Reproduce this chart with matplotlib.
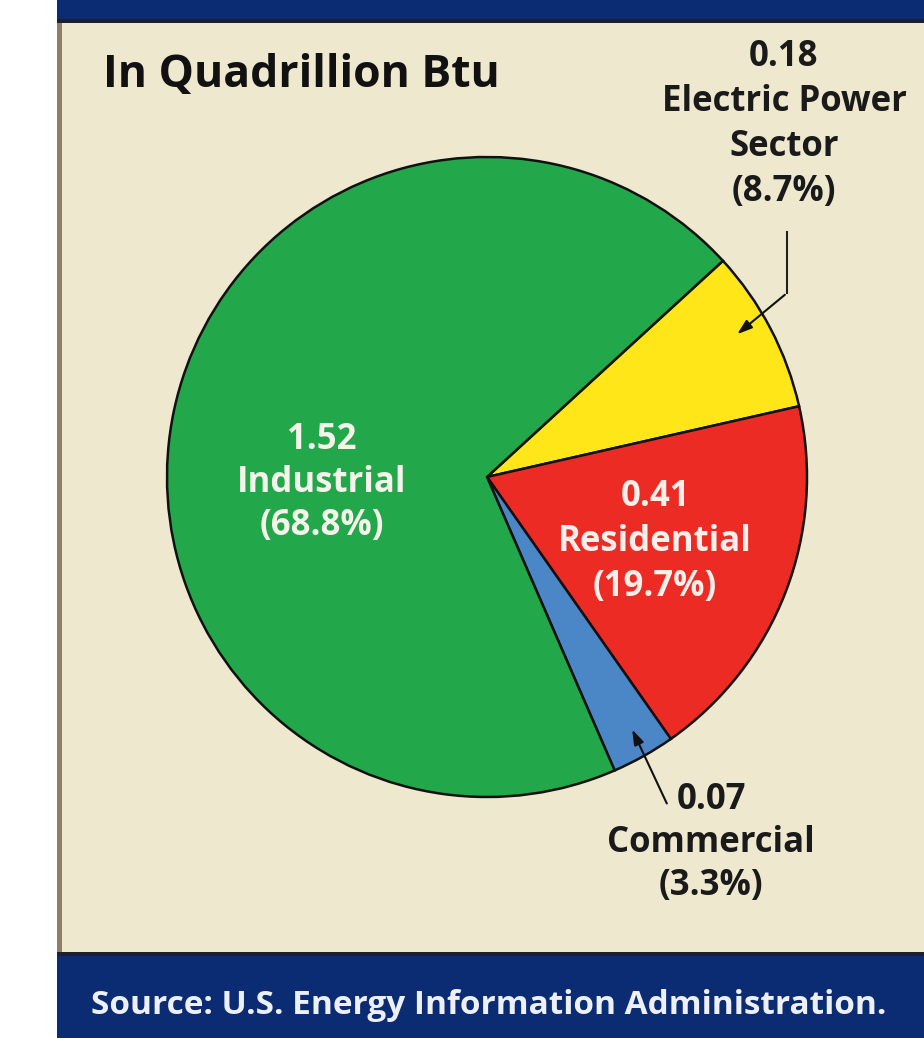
import matplotlib
matplotlib.use("Agg")
import matplotlib.pyplot as plt
from matplotlib.patches import Rectangle

# ---- data ----
sectors = ["Electric Power\nSector", "Residential", "Commercial", "Industrial"]
values = [0.18, 0.41, 0.07, 1.52]
percents = [8.7, 19.7, 3.3, 68.8]
colors = ["#ffe619", "#ec2b25", "#4b86c7", "#22a84a"]
title_text = "In Quadrillion Btu"
source_text = "Source: U.S. Energy Information Administration."

W, H = 924, 1038
fig = plt.figure(figsize=(W / 100, H / 100), dpi=100)
fig.patch.set_facecolor("white")
ax = fig.add_axes([0, 0, 1, 1])
ax.set_xlim(0, W)
ax.set_ylim(0, H)
ax.set_aspect("equal")
ax.axis("off")

def Y(y):
    return H - y

FONT = "Open Sans"
BEIGE = "#eee8cf"
NAVY = "#0b2c72"

# panel background
ax.add_patch(Rectangle((57, Y(953)), W - 57, 953 - 20, facecolor=BEIGE, edgecolor="none", zorder=0))
ax.add_patch(Rectangle((57, Y(953)), 5, 953 - 20, facecolor="#8c7f66", edgecolor="none", zorder=1))
# top bar
ax.add_patch(Rectangle((57, Y(19)), W - 57, 19, facecolor=NAVY, edgecolor="none", zorder=1))
ax.add_patch(Rectangle((57, Y(23)), W - 57, 4, facecolor="#1c1f2c", edgecolor="none", zorder=1))
# bottom bar
ax.add_patch(Rectangle((57, 0), W - 57, H - 952, facecolor=NAVY, edgecolor="none", zorder=1))
ax.add_patch(Rectangle((57, Y(956)), W - 57, 4, facecolor="#1c1f2c", edgecolor="none", zorder=1))

# pie
cx, cy, R = 487, Y(477), 320
ax.pie(values, colors=colors, startangle=42.5, counterclock=False,
       center=(cx, cy), radius=R, frame=True,
       wedgeprops=dict(edgecolor="#111111", linewidth=1.8))
ax.set_xlim(0, W)
ax.set_ylim(0, H)
ax.axis("off")

# title
ax.text(103, Y(76), title_text, fontsize=32, fontweight="bold", family=FONT,
        color="#111111", ha="left", va="center", zorder=5)

def label(x, y, lines, color, step=44, size=25):
    for i, t in enumerate(lines):
        ax.text(x, Y(y + i * step), t, fontsize=size, fontweight="bold", family=FONT,
                color=color, ha="center", va="center", zorder=5)

# Electric power
label(784, 57, [f"{values[0]:.2f}", "Electric Power", "Sector", f"({percents[0]}%)"], "#1a1a1a", step=45)
# Industrial
label(322, 440, [f"{values[3]:.2f}", "Industrial", f"({percents[3]}%)"], "#f4f4ea", step=43)
# Residential
label(655, 497, [f"{values[1]:.2f}", "Residential", f"({percents[1]}%)"], "#f8eeea", step=45)
# Commercial
label(711, 800, [f"{values[2]:.2f}", "Commercial", f"({percents[2]}%)"], "#1a1a1a", step=43)

# leader lines
ax.plot([787, 787], [Y(232), Y(293)], color="#222222", lw=1.5, zorder=4)
ax.annotate("", xy=(735, Y(336)), xytext=(787, Y(293)),
            arrowprops=dict(arrowstyle="-|>,head_length=0.9,head_width=0.3", color="#111111", lw=1.5),
            zorder=4)
ax.annotate("", xy=(631, Y(727)), xytext=(668, Y(806)),
            arrowprops=dict(arrowstyle="-|>,head_length=0.9,head_width=0.3", color="#111111", lw=1.5),
            zorder=4)

# source
ax.text(489, Y(1006), source_text, fontsize=24, fontweight="bold", family=FONT,
        color="#eef0f8", ha="center", va="center", zorder=5)

fig.savefig("out.png", dpi=100, facecolor=fig.get_facecolor())
